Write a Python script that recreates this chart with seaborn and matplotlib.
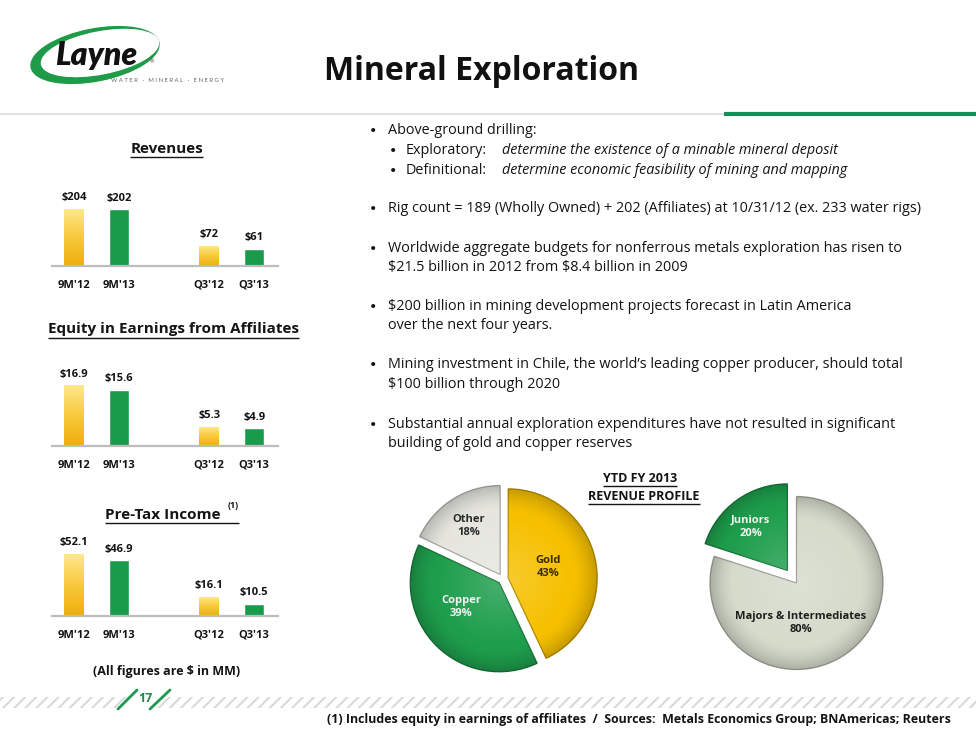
import numpy as np
import pandas as pd
import matplotlib
matplotlib.use("Agg")
import matplotlib.pyplot as plt
import seaborn as sns
from matplotlib.patches import Ellipse, Rectangle, Polygon
from matplotlib.colors import LinearSegmentedColormap, to_rgb

# ---------------- data ----------------
periods = ["9M'12", "9M'13", "Q3'12", "Q3'13"]
period_year = ["2012", "2013", "2012", "2013"]
axis_order = ["9M'12", "9M'13", " ", "Q3'12", "Q3'13"]
revenues = [204, 202, 72, 61]
equity = [16.9, 15.6, 5.3, 4.9]
pretax = [52.1, 46.9, 16.1, 10.5]

metal_labels = ["Gold", "Copper", "Other"]
metal_share = [43, 39, 18]
segment_labels = ["Majors & Intermediates", "Juniors"]
segment_share = [80, 20]

bullets = [
    ("Above-ground drilling:", None),
    ("Rig count = 189 (Wholly Owned) + 202 (Affiliates) at 10/31/12 (ex. 233 water rigs)", None),
    ("Worldwide aggregate budgets for nonferrous metals exploration has risen to",
     "$21.5 billion in 2012 from $8.4 billion in 2009"),
    ("$200 billion in mining development projects forecast in Latin America",
     "over the next four years."),
    ("Mining investment in Chile, the world\u2019s leading copper producer, should total",
     "$100 billion through 2020"),
    ("Substantial annual exploration expenditures have not resulted in significant",
     "building of gold and copper reserves"),
]
sub_bullets = [
    ("Exploratory:", "determine the existence of a minable mineral deposit"),
    ("Definitional:", "determine economic feasibility of mining and mapping"),
]

# ---------------- style ----------------
W, H = 976, 732
sns.set_theme(style="white")
plt.rcParams["font.family"] = ["Open Sans", "DejaVu Sans"]
plt.rcParams["hatch.linewidth"] = 1.5
plt.rcParams["text.parse_math"] = False

GOLD_DARK = "#EFAE0C"
GOLD_MID = "#F8C93C"
GOLD_LIGHT = "#FFE98E"
GREEN = "#1A9B4B"
TXT = "#141414"
gold_cmap = LinearSegmentedColormap.from_list("gold", [GOLD_DARK, GOLD_MID, GOLD_LIGHT])

fig = plt.figure(figsize=(W / 100, H / 100), dpi=100)
fig.patch.set_facecolor("white")
cv = fig.add_axes([0, 0, 1, 1])
cv.set_xlim(0, W)
cv.set_ylim(H, 0)
cv.axis("off")


def underline(texts, y, lw=1.0, color=TXT):
    r = fig.canvas.get_renderer()
    inv = cv.transData.inverted()
    xs = []
    for t in texts:
        bb = t.get_window_extent(renderer=r)
        xs += [inv.transform((bb.x0, bb.y0))[0], inv.transform((bb.x1, bb.y0))[0]]
    cv.plot([min(xs), max(xs)], [y, y], color=color, lw=lw, solid_capstyle="butt")


# ---------------- header ----------------
cv.add_patch(Ellipse((95, 55), 130, 52, angle=-11, color="#1E9A48", zorder=2))
cv.add_patch(Ellipse((100, 53), 119, 42, angle=-11, color="white", zorder=3))
cv.text(96, 56, "Layne", fontsize=23, fontweight="heavy", style="italic", color="#111",
        family=["Lato", "DejaVu Sans"], ha="center", va="center", zorder=4)
cv.text(152, 62, "\u00ae", fontsize=4, color="#333", ha="center", va="center", zorder=4)
cv.text(168, 80, "W A T E R   \u00b7   M I N E R A L   \u00b7   E N E R G Y", fontsize=4.3,
        color="#666", family=["Lato", "DejaVu Sans"], ha="center", va="center", zorder=4)

cv.text(481.5, 80, "Mineral Exploration", fontsize=23, fontweight="bold",
        color="#111", ha="center", va="baseline")
cv.plot([0, 724], [114, 114], color="#E2E2E2", lw=1.5, solid_capstyle="butt")
cv.plot([724, W], [114, 114], color="#178E59", lw=3.0, solid_capstyle="butt")

# ---------------- bar panels ----------------
def bar_panel(values, baseline, px_per_unit, fmt):
    df = pd.DataFrame({"period": periods, "year": period_year, "value": values})
    left, right, height = 52, 278, 95
    ax = fig.add_axes([left / W, 1 - baseline / H, (right - left) / W, height / H])
    ax.patch.set_alpha(0)
    sns.barplot(data=df, x="period", y="value", hue="year", hue_order=["2012", "2013"],
                order=axis_order, palette={"2012": GOLD_DARK, "2013": GREEN},
                width=0.43, dodge=False, saturation=1, errorbar=None, legend=False, ax=ax)
    xlim = (-0.49, 4.53)
    ylim = (0, height / px_per_unit)
    for bar in ax.containers[0]:
        h = bar.get_height()
        if not h or np.isnan(h):
            continue
        x0, y0 = bar.get_xy()
        grad = np.linspace(0, 1, 256).reshape(-1, 1)
        im = ax.imshow(grad, extent=[x0, x0 + bar.get_width(), y0, y0 + h], origin="lower",
                       cmap=gold_cmap, aspect="auto", zorder=bar.get_zorder() + 0.1)
        im.set_clip_path(bar)
    for c in ax.containers:
        labs = [fmt(b.get_height()) if (b.get_height() and not np.isnan(b.get_height())) else ""
                for b in c]
        ax.bar_label(c, labels=labs, padding=4, fontsize=8, fontweight="bold", color=TXT)
    ax.set_xlim(*xlim)
    ax.set_ylim(*ylim)
    ax.set_xlabel("")
    ax.set_ylabel("")
    ax.set_yticks([])
    for s in ["top", "right", "left"]:
        ax.spines[s].set_visible(False)
    ax.spines["bottom"].set_color("#BDBDBD")
    ax.spines["bottom"].set_linewidth(1.6)
    ax.tick_params(axis="x", length=0, pad=10, labelsize=8, labelcolor=TXT)
    for lbl in ax.get_xticklabels():
        lbl.set_fontweight("bold")
    return ax


bar_panel(revenues, 266, 0.281, lambda v: f"${v:.0f}")
bar_panel(equity, 446, 3.6, lambda v: f"${v:.1f}")
bar_panel(pretax, 616, 1.19, lambda v: f"${v:.1f}")

t1 = cv.text(166.5, 152.7, "Revenues", fontsize=11, fontweight="bold", color=TXT,
             ha="center", va="baseline")
t2 = cv.text(173, 333.3, "Equity in Earnings from Affiliates", fontsize=11, fontweight="bold",
             color=TXT, ha="center", va="baseline")
t3 = cv.text(163, 519.3, "Pre-Tax Income", fontsize=11, fontweight="bold", color=TXT,
             ha="center", va="baseline")
t3b = cv.text(233, 508, "(1)", fontsize=6.5, fontweight="bold", color=TXT,
              ha="center", va="baseline")
cv.text(167, 671, "(All figures are $ in MM)", fontsize=9, fontweight="bold", color=TXT,
        ha="center", va="center")

# ---------------- bullets ----------------
BFS = 10.4
BUL = dict(fontsize=8, color=TXT, ha="left", va="center", family=["Lato", "DejaVu Sans"])
main_y = [131, 209, 248, 306, 365, 424]
for (l1, l2), y in zip(bullets, main_y):
    cv.text(370, y, "\u2022", **BUL)
    cv.text(388, y, l1, fontsize=BFS, color=TXT, ha="left", va="center")
    if l2:
        cv.text(388, y + 19.5, l2, fontsize=BFS, color=TXT, ha="left", va="center")
for (a, b), y in zip(sub_bullets, [150, 170]):
    cv.text(390, y, "\u2022", **BUL)
    cv.text(406, y, a, fontsize=BFS, color=TXT, ha="left", va="center")
    cv.text(502, y, b, fontsize=BFS, style="italic", color=TXT, ha="left", va="center")

# ---------------- pies ----------------
def pie_panel(cx, cy, r, shares, labels, colors, explode, label_xy, label_colors):
    S = 230
    ax = fig.add_axes([(cx - S / 2) / W, 1 - (cy + S / 2) / H, S / W, S / H])
    ax.patch.set_alpha(0)
    lim = S / 2 / r
    wedges, _ = ax.pie(shares, colors=colors, explode=explode, startangle=90,
                       counterclock=False, wedgeprops=dict(linewidth=0.9))
    n = 300
    g = np.linspace(-1.05, 1.05, n)
    X, Y = np.meshgrid(g, g)
    R = np.hypot(X, Y)
    rim = np.clip((R - 0.72) / 0.28, 0, 1) ** 1.6
    shade = np.zeros((n, n, 4))
    shade[..., 3] = 0.2 * rim
    hi = np.ones((n, n, 4))
    hi[..., 3] = 0.18 * np.clip(1 - R / 0.7, 0, 1)
    for w, col in zip(wedges, colors):
        w.set_edgecolor(tuple(np.array(to_rgb(col)) * 0.72))
        wx, wy = w.center
        for arr in (shade, hi):
            im = ax.imshow(arr, extent=[wx - 1.05, wx + 1.05, wy - 1.05, wy + 1.05],
                           origin="lower", zorder=w.get_zorder() + 0.1, interpolation="bilinear")
            im.set_clip_path(w)
    for lab, sh, (lx, ly), lc in zip(labels, shares, label_xy, label_colors):
        ax.text(lx, ly, f"{lab}\n{sh}%", ha="center", va="center", fontsize=8,
                fontweight="bold", color=lc, linespacing=1.25, zorder=10)
    ax.set_xlim(-lim, lim)
    ax.set_ylim(-lim, lim)
    ax.set_aspect("equal")
    ax.axis("off")
    return ax


pie_panel(503, 579, 89, metal_share, metal_labels,
          ["#F6C000", "#1E9E4C", "#E6E6DF"], [0.06, 0.06, 0.06],
          [(0.51, 0.14), (-0.47, -0.31), (-0.39, 0.59)],
          ["#3B2C00", "#F4F4F4", "#2A2A2A"])
pie_panel(796.5, 583, 86.5, segment_share, segment_labels,
          ["#D6DBCC", "#1E9E4C"], [0.0, 0.18],
          [(0.05, -0.46), (-0.53, 0.65)],
          ["#1E1E1E", "#EEF5EE"])

y1 = cv.text(640, 478, "YTD FY 2013", fontsize=9, fontweight="bold", color=TXT,
             ha="center", va="center")
y2 = cv.text(644, 496, "REVENUE PROFILE", fontsize=9, fontweight="bold", color=TXT,
             ha="center", va="center")

# ---------------- footer ----------------
cv.add_patch(Rectangle((0, 697), W, 11, facecolor="none", edgecolor="#D9D9D9", lw=0,
                       hatch="///", zorder=1))
cv.add_patch(Polygon([(118, 709), (137, 690), (170, 690), (150, 709)], closed=True,
                     facecolor="white", edgecolor="none", zorder=2))
cv.plot([118, 137], [709, 690], color="#1B9A4F", lw=2.0, zorder=3)
cv.plot([150, 170], [709, 690], color="#1B9A4F", lw=2.0, zorder=3)
cv.text(145, 699, "17", fontsize=9, fontweight="bold", color="#1B8A48", ha="center",
        va="center", zorder=4)
cv.text(951, 720, "(1) Includes equity in earnings of affiliates  /  Sources:  Metals Economics "
        "Group; BNAmericas; Reuters", fontsize=8.9, fontweight="bold", color=TXT,
        ha="right", va="center")

# underlines (need text extents)
fig.canvas.draw()
underline([t1], 157)
underline([t2], 337.5)
underline([t3, t3b], 522.5)
underline([y1], 485.5)
underline([y2], 503.5)

fig.savefig("out.png", dpi=100)
